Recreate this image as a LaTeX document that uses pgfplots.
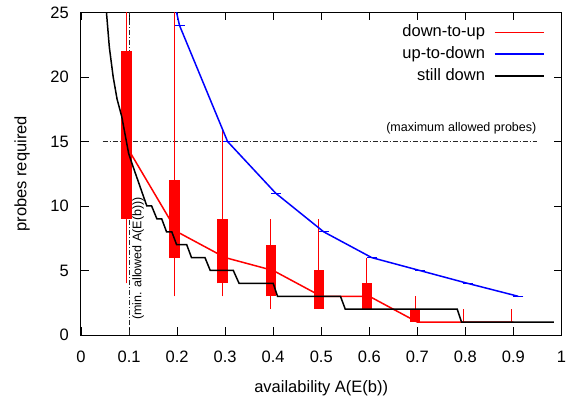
\documentclass[border=0pt]{standalone}
\usepackage{fontspec}
\setmainfont{Liberation Sans}
\usepackage{pgfplots}
\pgfplotsset{compat=1.18}
\usepackage{pgfplotstable}

% boxes and whiskers (x slightly left of the nominal availability)
\pgfplotstableread{
x     boxlo boxhi wlo whi
0.095 9     22    4   30
0.195 6     12    3   30
0.295 4     9     3   16
0.395 3     7     2   9
0.495 2     5     2   9
0.595 2     4     2   6
0.695 1     2     1   3
0.795 1     1     1   2
0.895 1     1     1   2
}\boxdata

\pgfplotstableread{
x   y
0.1 14.3
0.2 8
0.3 6
0.4 5
0.5 3
0.6 3
0.7 1
0.8 1
0.9 1
}\downup

\pgfplotstableread{
x     y
0.105 40.5
0.205 24
0.305 15
0.405 11
0.505 8
0.605 6
0.705 5
0.805 4
0.91  3
}\updown

\pgfplotstableread{
x     y
0.050 26.5
0.053 25
0.059 22.3
0.067 20
0.075 18.3
0.085 16.9
0.092 15.5
0.099 14.1
0.106 13.3
0.137 10
0.147 10
0.158 9
0.168 9
0.178 8
0.189 8
0.199 7
0.220 7
0.230 6
0.258 6
0.269 5
0.317 5
0.329 4
0.400 4
0.409 3
0.540 3
0.550 2
0.783 2
0.792 1
0.984 1
}\stilldown

\begin{document}
\fontsize{16.5}{19.8}\selectfont
\begin{tikzpicture}
\path[use as bounding box] (-81pt,-66pt) rectangle (491pt,335pt);
\begin{axis}[
    scale only axis,
    width=480.5pt, height=322.5pt,
    xmin=0, xmax=1, ymin=0, ymax=25,
    xtick={0,0.1,0.2,0.3,0.4,0.5,0.6,0.7,0.8,0.9,1},
    xticklabels={0,0.1,0.2,0.3,0.4,0.5,0.6,0.7,0.8,0.9,1},
    ytick={0,5,10,15,20,25},
    /pgf/number format/assume math mode=true,
    tick align=inside,
    major tick length=8pt,
    tick style={black, line width=0.8pt},
    axis line style={line width=1pt},
    x tick label style={anchor=center, inner sep=0pt, yshift=-21.5pt},
    y tick label style={anchor=east, inner sep=0pt, xshift=-12pt},
    xlabel={availability A(E(b))},
    ylabel={probes required},
    x label style={at={(axis description cs:0.5,0)}, anchor=center, yshift=-53pt},
    y label style={at={(axis description cs:0,0.5)}, anchor=center, yshift=59pt},
    legend plot pos=right,
    legend cell align=right,
    legend style={draw=none, fill=none, at={(axis cs:0.965,24.07)}, anchor=north east,
        inner sep=0pt, row sep=6.2pt,
        nodes={inner sep=0pt, text height=12pt, text depth=3.5pt}},
    legend image code/.code={\path (0pt,0pt); \draw[#1] (9pt,0pt) -- (58pt,0pt);},
]
% reference lines
\addplot[forget plot, black!85, line width=0.8pt, dash pattern=on 5pt off 2pt on 1pt off 2pt]
    coordinates {(0.045,15) (0.95,15)};
\addplot[forget plot, black!85, line width=0.8pt, dash pattern=on 5pt off 2pt on 1pt off 2pt]
    coordinates {(0.1,0) (0.1,25)};

% whiskers
\addplot[forget plot, draw=none, mark=none,
    error bars/.cd, y dir=plus, y explicit, error mark=none,
    error bar style={draw=red, line width=0.9pt}]
    table[x=x, y=wlo, y error expr=\thisrow{whi}-\thisrow{wlo}] {\boxdata};
% boxes
\addplot[forget plot, draw=none, mark=none,
    error bars/.cd, y dir=plus, y explicit, error mark=none,
    error bar style={draw=red, line width=10.5pt, line cap=butt}]
    table[x=x, y=boxlo, y error expr=\thisrow{boxhi}-\thisrow{boxlo}] {\boxdata};

\addplot[red, line width=1.5pt] table {\downup};
\addlegendentry{down-to-up}
\addplot[blue, line width=1.5pt, mark=-, mark size=5pt, mark options={line width=0.8pt}] table {\updown};
\addlegendentry{up-to-down}
\addplot[black, line width=1.5pt] table {\stilldown};
\addlegendentry{still down}

\node[anchor=east, inner sep=0pt, font=\fontsize{12.5}{15}\selectfont] at (axis cs:0.948,16) {(maximum allowed probes)};
\node[rotate=90, anchor=west, inner sep=0pt, font=\fontsize{12.5}{15}\selectfont] at (axis cs:0.119,1.15) {(min. allowed A(E(b)))};
\end{axis}
\end{tikzpicture}
\end{document}
